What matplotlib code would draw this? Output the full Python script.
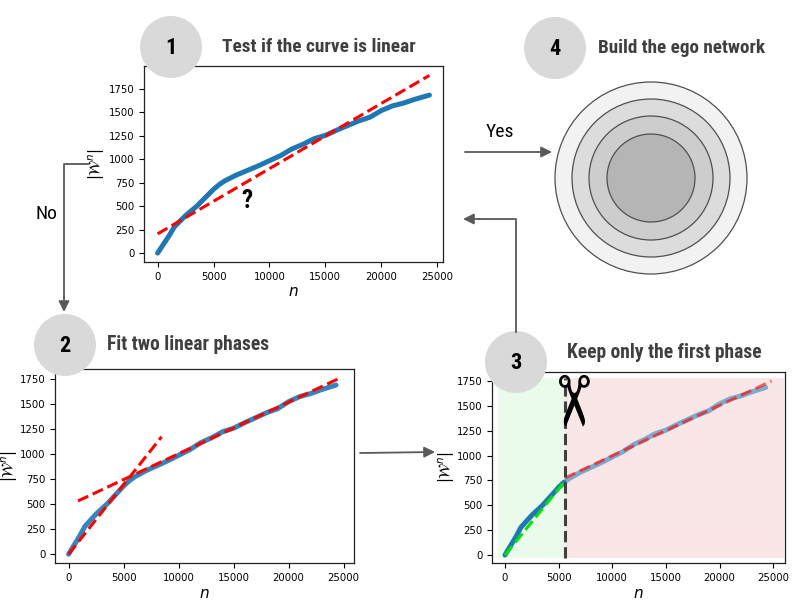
import numpy as np
import matplotlib.pyplot as plt
from matplotlib.patches import Circle

# curve |W^n| as a function of n
n_vals = [0, 500, 1000, 1500, 2000, 2500, 3000, 3500, 4000, 4500, 5000, 5500, 6000,
          7000, 8000, 9000, 10000, 11000, 12000, 13000, 14000, 15000, 16000, 17000,
          18000, 19000, 20000, 21000, 22000, 23000, 24300]
w_vals = [0, 90, 180, 280, 340, 400, 450, 500, 560, 620, 680, 730, 770,
          830, 880, 930, 985, 1040, 1110, 1160, 1220, 1255, 1310, 1360,
          1410, 1450, 1520, 1570, 1600, 1640, 1685]

# single linear fit (panel 1)
fit1_x = [0, 24300]
fit1_y = [205, 1895]
# two-phase fit (panel 2)
phase1_x = [0, 8450]
phase1_y = [0, 1170]
phase2_x = [850, 24700]
phase2_y = [530, 1757]
# panel 3
cut = 5600
keep_x = [0, 5600]
keep_y = [0, 745]
drop_x = [5600, 24850]
drop_y = [775, 1750]

xticks = [0, 5000, 10000, 15000, 20000, 25000]
yticks = [0, 250, 500, 750, 1000, 1250, 1500, 1750]

titles = ['Test if the curve is linear', 'Fit two linear phases',
          'Keep only the first phase', 'Build the ego network']

blue = '#1f77b4'
grey = '#595959'
cond_font = ['Roboto Condensed', 'Roboto', 'DejaVu Sans']

fig = plt.figure(figsize=(7.96, 6.04), dpi=100)
W, H = 796, 604


def make_ax(x0, y0, x1, y1, label_x):
    ax = fig.add_axes([x0 / W, 1 - y1 / H, (x1 - x0) / W, (y1 - y0) / H])
    ax.set_xticks(xticks)
    ax.set_yticks(yticks)
    ax.tick_params(labelsize=7.3, length=3.5, width=0.8)
    for s in ax.spines.values():
        s.set_linewidth(0.9)
        s.set_color('#222222')
    ax.set_xlabel('$n$', fontsize=11, labelpad=2)
    ax.set_ylabel(r'$|\mathcal{W}^n|$', fontsize=10.5)
    # label_x = right edge of the rotated label, in pixels
    ax.yaxis.set_label_coords((label_x - x0) / (x1 - x0), 0.5)
    return ax


# panel 1
ax1 = make_ax(144, 66, 443, 262, 107)
ax1.plot(n_vals, w_vals, color=blue, lw=3.6, solid_capstyle='round')
ax1.plot(fit1_x, fit1_y, color='red', lw=2.2, ls='--')
ax1.set_xlim(-1215, 25515)
ax1.set_ylim(-95, 1995)
ax1.text(8000, 560, '?', fontsize=18, fontweight='bold', ha='center', va='center',
         family=cond_font)

# panel 2
ax2 = make_ax(55, 369, 354, 563, 20)
ax2.plot(n_vals, w_vals, color=blue, lw=3.6, alpha=0.9, solid_capstyle='round')
ax2.plot(phase1_x, phase1_y, color='red', lw=2.2, ls='--')
ax2.plot(phase2_x, phase2_y, color='red', lw=2.2, ls='--')
ax2.set_xlim(-1235, 25935)
ax2.set_ylim(-88, 1845)

# panel 3
ax3 = make_ax(492, 372, 785, 563, 457)
ax3.fill_betweenx([-27, 1783], -620, cut, color='#ebfbeb', lw=0)
ax3.fill_betweenx([-27, 1783], cut, 26000, color='#f9e7e7', lw=0)
n_arr = np.array(n_vals)
w_arr = np.array(w_vals)
first = n_arr <= cut
ax3.plot(n_arr[first], w_arr[first], color=blue, lw=3.6, solid_capstyle='round')
ax3.plot(n_arr[n_arr >= 5000], w_arr[n_arr >= 5000], color=blue, lw=3.6, alpha=0.55,
         solid_capstyle='round')
ax3.plot(keep_x, keep_y, color='#00e600', lw=2.2, ls='--')
ax3.plot(drop_x, drop_y, color='red', lw=2.2, ls='--', alpha=0.6)
ax3.plot([cut, cut], [-27, 1783], color='#404040', lw=2.2, ls='--')
ax3.text(cut, 1540, '\u2702', fontsize=50, rotation=-90, ha='center', va='center',
         color='black', family='DejaVu Sans')
ax3.set_xlim(-1210, 26100)
ax3.set_ylim(-80, 1840)

# overlay for circles, titles and arrows
ov = fig.add_axes([0, 0, 1, 1], zorder=10)
ov.set_xlim(0, W)
ov.set_ylim(H, 0)
ov.axis('off')
ov.patch.set_alpha(0)

renderer = fig.canvas.get_renderer()

badges = [(171, 47), (65, 345), (516, 362), (555, 48)]
title_pos = [(222, 47), (107, 345), (567, 352), (598, 48)]
title_w = [193, 161, 194, 167]
for i, ((cx, cy), (tx, ty), t, tw) in enumerate(zip(badges, title_pos, titles, title_w)):
    ov.add_patch(Circle((cx, cy), 31, color='#d9d9d9', lw=0))
    ov.text(cx, cy + 1, str(i + 1), fontsize=16, fontweight='bold', ha='center',
            va='center', color='black', family=cond_font)
    txt = ov.text(tx, ty, t, fontsize=13, fontweight='bold', ha='left', va='center',
                  color='#3f3f3f', family=cond_font)
    # shrink the title so it spans the same width as in the reference
    width = txt.get_window_extent(renderer).width
    txt.set_fontsize(13 * tw / width)

# ego network rings
ring_r = [96, 79, 62, 44]
ring_c = ['#f2f2f2', '#dcdcdc', '#cdcdcd', '#b5b5b5']
for r, c in zip(ring_r, ring_c):
    ov.add_patch(Circle((651, 178), r, facecolor=c, edgecolor='#505050', lw=0.9))

arr = dict(arrowstyle='-|>', color=grey, lw=1.3, mutation_scale=16, shrinkA=0, shrinkB=0)
# Yes
ov.annotate('', xy=(552, 152), xytext=(465, 152), arrowprops=arr)
ov.text(500, 132, 'Yes', fontsize=14, ha='center', va='center', family=cond_font)
# No
ov.plot([88, 64, 64], [164, 164, 298], color=grey, lw=1.3)
ov.annotate('', xy=(64, 312), xytext=(64, 296), arrowprops=arr)
ov.text(46, 214, 'No', fontsize=14, ha='center', va='center', family=cond_font)
# 2 -> 3
ov.annotate('', xy=(435, 452), xytext=(360, 453), arrowprops=arr)
# 3 -> back
ov.plot([516, 516, 478], [332, 219, 219], color=grey, lw=1.3)
ov.annotate('', xy=(463, 219), xytext=(480, 219), arrowprops=arr)

fig.savefig('out.png', dpi=100)
